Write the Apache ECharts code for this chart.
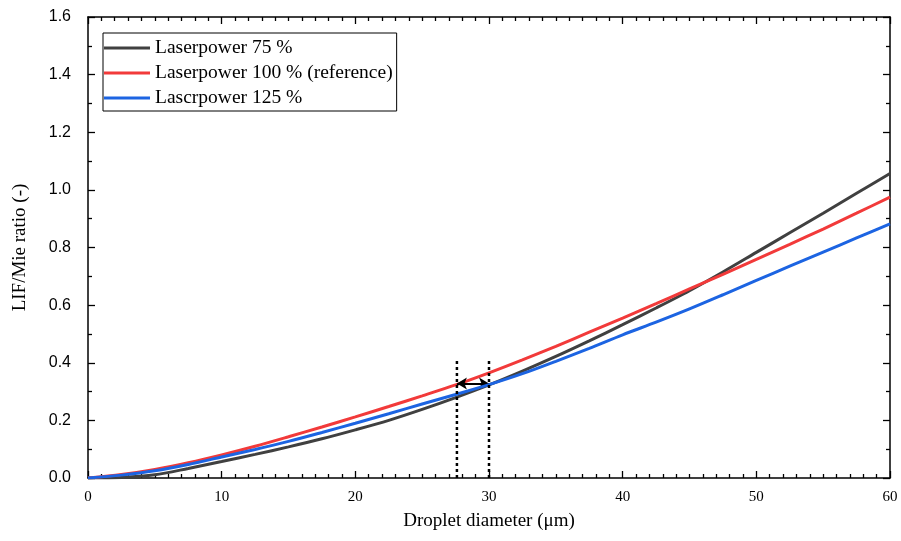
<!DOCTYPE html>
<html>
<head>
<meta charset="utf-8">
<script src="https://cdn.jsdelivr.net/npm/echarts@6/dist/echarts.min.js"></script>
<style>
  html, body { margin: 0; padding: 0; background: #fff; }
  #chart { width: 901px; height: 541px; }
</style>
</head>
<body>
<div id="chart"></div>
<script>
// droplet diameter (µm)
const diameters = [0, 2.5, 5, 7.5, 10, 12.5, 15, 17.5, 20, 22.5, 25, 27.5, 30, 32.5, 35, 37.5, 40, 42.5, 45, 47.5, 50, 52.5, 55, 57.5, 60];

// LIF/Mie ratio
const power75 = [0, 0.002, 0.011, 0.033, 0.057, 0.082, 0.108, 0.136, 0.167, 0.2, 0.238, 0.279, 0.323, 0.371, 0.422, 0.476, 0.532, 0.59, 0.65, 0.715, 0.783, 0.851, 0.919, 0.988, 1.057];
const power100 = [0, 0.012, 0.03, 0.053, 0.08, 0.11, 0.143, 0.177, 0.212, 0.248, 0.285, 0.323, 0.365, 0.41, 0.457, 0.506, 0.555, 0.605, 0.656, 0.707, 0.759, 0.811, 0.864, 0.919, 0.975];
const power125 = [0, 0.01, 0.025, 0.047, 0.073, 0.099, 0.127, 0.158, 0.19, 0.223, 0.257, 0.29, 0.324, 0.362, 0.405, 0.45, 0.497, 0.541, 0.587, 0.636, 0.686, 0.735, 0.784, 0.833, 0.882];

// annotation: two dotted verticals and the shift arrow between them
const shiftFrom = 27.6;
const shiftTo = 30;
const markerTop = 0.41;
const arrowLevel = 0.328;

const names = ['Laserpower 75 %', 'Laserpower 100 % (reference)', 'Lascrpower 125 %'];
const colors = ['#404040', '#f23a3a', '#1c64e2'];

const pairs = ys => diameters.map((x, i) => [x, ys[i]]);

const serif = '"Liberation Serif", "DejaVu Serif", serif';
const sans = '"Liberation Sans", Arial, sans-serif';

const chart = echarts.init(document.getElementById('chart'), null, { renderer: 'canvas' });

const tickStyle = { color: '#000', width: 1.3 };

function xAxisCfg(top) {
  return {
    type: 'value',
    min: 0, max: 60, interval: 10,
    position: top ? 'top' : 'bottom',
    name: top ? '' : 'Droplet diameter (\u03bcm)',
    nameLocation: 'middle',
    nameGap: 34,
    nameTextStyle: { fontFamily: serif, fontSize: 19, color: '#000' },
    axisLine: { show: true, onZero: false, lineStyle: { color: '#000', width: 1.5 } },
    axisTick: { show: true, inside: true, length: 7, lineStyle: tickStyle },
    minorTick: { show: true, splitNumber: 10, length: 4, lineStyle: tickStyle },
    axisLabel: { show: !top, fontFamily: serif, fontSize: 15, color: '#000', margin: 12 },
    splitLine: { show: false }
  };
}

function yAxisCfg(right) {
  return {
    type: 'value',
    min: 0, max: 1.6, interval: 0.2,
    position: right ? 'right' : 'left',
    name: right ? '' : 'LIF/Mie ratio (-)',
    nameLocation: 'middle',
    nameGap: 58,
    nameTextStyle: { fontFamily: serif, fontSize: 19, color: '#000' },
    axisLine: { show: true, onZero: false, lineStyle: { color: '#000', width: 1.5 } },
    axisTick: { show: true, inside: true, length: 7, lineStyle: tickStyle },
    minorTick: { show: true, splitNumber: 2, length: 4, lineStyle: tickStyle },
    axisLabel: { show: !right, fontFamily: sans, fontSize: 16, color: '#000', margin: 17,
      formatter: v => v.toFixed(1) },
    splitLine: { show: false }
  };
}

const curves = [power75, power100, power125].map((ys, i) => ({
  name: names[i],
  type: 'line',
  data: pairs(ys),
  smooth: 0.3,
  symbol: 'none',
  lineStyle: { color: colors[i], width: 3 },
  itemStyle: { color: colors[i] },
  z: 3 + i
}));

const markers = [shiftFrom, shiftTo].map((x, i) => ({
  name: 'marker' + i,
  type: 'line',
  data: [[x, 0], [x, markerTop]],
  symbol: 'none',
  silent: true,
  lineStyle: { color: '#000', width: 2.5, type: [3, 3] },
  z: 6,
  markLine: i === 0 ? {
    silent: true,
    symbol: ['arrow', 'arrow'],
    symbolSize: [9, 10],
    label: { show: false },
    lineStyle: { color: '#000', width: 2, type: 'solid' },
    data: [[{ coord: [shiftFrom, arrowLevel] }, { coord: [shiftTo, arrowLevel] }]]
  } : undefined
}));

chart.setOption({
  animation: false,
  backgroundColor: '#fff',
  grid: { left: 88, right: 11, top: 17, bottom: 63 },
  xAxis: [xAxisCfg(false), xAxisCfg(true)],
  yAxis: [yAxisCfg(false), yAxisCfg(true)],
  legend: {
    data: names,
    orient: 'vertical',
    left: 103, top: 33,
    padding: [5, 4, 3, 1],
    icon: 'rect',
    itemWidth: 46, itemHeight: 3, itemGap: 5,
    borderColor: '#000', borderWidth: 1,
    textStyle: { fontFamily: serif, fontSize: 19.5, color: '#000' }
  },
  series: curves.concat(markers)
});
</script>
</body>
</html>
